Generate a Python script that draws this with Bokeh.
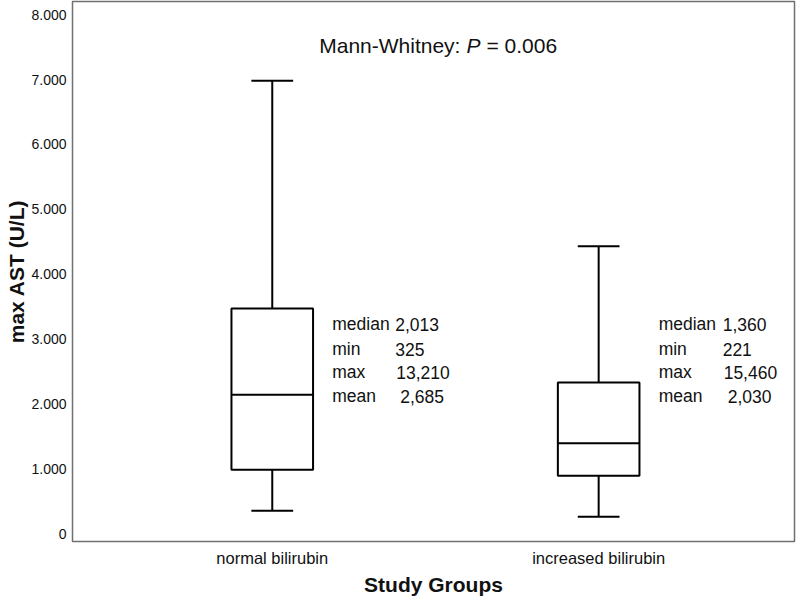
from bokeh.plotting import figure
from bokeh.models import Range1d, FixedTicker, ColumnDataSource
from bokeh.core.properties import value
from bokeh.embed import file_html
from bokeh.resources import INLINE

# ---- data ----
groups = ["normal bilirubin", "increased bilirubin"]
group_pos = [1, 2]
whisker_high = [6980, 4430]
q3 = [3470, 2330]
median = [2140, 1390]
q1 = [985, 890]
whisker_low = [350, 260]

stat_names = ["median", "min", "max", "mean"]
stat_values_g1 = ["2,013", "325", "13,210", "2,685"]
stat_values_g2 = ["1,360", "221", "15,460", "2,030"]
stat_rows_y = [3226, 2842, 2488, 2120]

y_ticks = [0, 1000, 2000, 3000, 4000, 5000, 6000, 7000, 8000]
y_tick_labels = ["0", "1.000", "2.000", "3.000", "4.000", "5.000", "6.000", "7.000", "8.000"]

FONT = "Liberation Sans"
BOX_W = 0.25
CAP_W = 0.128

p = figure(width=800, height=598, output_backend="svg", toolbar_location=None,
           x_range=Range1d(0.388, 2.6), y_range=Range1d(-123, 8203),
           min_border_left=72, min_border_right=6, min_border_top=1, min_border_bottom=55)

p.xgrid.visible = False
p.ygrid.visible = False
p.outline_line_color = "#707070"
p.outline_line_width = 1.5
p.background_fill_color = "white"
p.border_fill_color = "white"

# axes
p.xaxis.ticker = FixedTicker(ticks=group_pos)
p.xaxis.major_label_overrides = {g: n for g, n in zip(group_pos, groups)}
p.yaxis.ticker = FixedTicker(ticks=y_ticks)
p.yaxis.major_label_overrides = {t: l for t, l in zip(y_ticks, y_tick_labels)}
for ax in (p.xaxis, p.yaxis):
    ax.axis_line_color = None
    ax.major_tick_line_color = None
    ax.minor_tick_line_color = None
    ax.major_tick_out = 0
    ax.major_tick_in = 0
    ax.minor_tick_out = 0
    ax.minor_tick_in = 0
    ax.major_label_text_font = FONT
    ax.major_label_text_color = "#111111"
    ax.axis_label_text_font = FONT
    ax.axis_label_text_font_style = "bold"
    ax.axis_label_text_font_size = "21px"
    ax.axis_label_text_color = "#111111"
    ax.axis_label_standoff = 0
p.xaxis.axis_label_standoff = 3
p.xaxis.major_label_text_font_size = "16.5px"
p.yaxis.major_label_text_font_size = "14px"
p.xaxis.axis_label = "Study Groups"
p.yaxis.axis_label = "max AST (U/L)"
p.xaxis.major_label_standoff = 7
p.yaxis.major_label_standoff = 6

src = ColumnDataSource(dict(
    x=group_pos, hi=whisker_high, q3=q3, med=median, q1=q1, lo=whisker_low,
    left=[g - BOX_W / 2 for g in group_pos], right=[g + BOX_W / 2 for g in group_pos],
    cl=[g - CAP_W / 2 for g in group_pos], cr=[g + CAP_W / 2 for g in group_pos],
))

# whiskers
p.segment(x0="x", y0="q3", x1="x", y1="hi", source=src, line_color="black", line_width=2)
p.segment(x0="x", y0="q1", x1="x", y1="lo", source=src, line_color="black", line_width=2)
p.segment(x0="cl", y0="hi", x1="cr", y1="hi", source=src, line_color="black", line_width=2)
p.segment(x0="cl", y0="lo", x1="cr", y1="lo", source=src, line_color="black", line_width=2)
# boxes
p.quad(left="left", right="right", top="q3", bottom="q1", source=src,
       fill_color="white", line_color="black", line_width=2)
p.segment(x0="left", y0="med", x1="right", y1="med", source=src, line_color="black", line_width=2)

# stats annotations
for gx, vals, num_off in ((1, stat_values_g1, [123, 123, 124, 128]),
                          (2, stat_values_g2, [124, 124, 125, 129])):
    p.text(x=[gx] * 4, y=stat_rows_y, text=stat_names, x_offset=60,
           text_font=value(FONT), text_font_size="17.5px", text_color="#111111",
           text_align="left", text_baseline="middle")
    p.text(x=[gx] * 4, y=stat_rows_y, text=vals, x_offset=num_off,
           text_font=value(FONT), text_font_size="17.5px", text_color="#111111",
           text_align="left", text_baseline="middle")

# title annotation
title_x = 1.5
title_y = 7527
p.text(x=[title_x], y=[title_y], text=["Mann-Whitney:"], x_offset=25,
       text_font=value(FONT), text_font_size="21px", text_color="#111111",
       text_align="right", text_baseline="middle")
p.text(x=[title_x], y=[title_y], text=["P"], x_offset=31,
       text_font=value(FONT), text_font_size="21px", text_font_style="italic",
       text_color="#111111", text_align="left", text_baseline="middle")
p.text(x=[title_x], y=[title_y], text=["= 0.006"], x_offset=51,
       text_font=value(FONT), text_font_size="21px", text_color="#111111",
       text_align="left", text_baseline="middle")

open("out.html", "w").write(file_html(p, INLINE))
